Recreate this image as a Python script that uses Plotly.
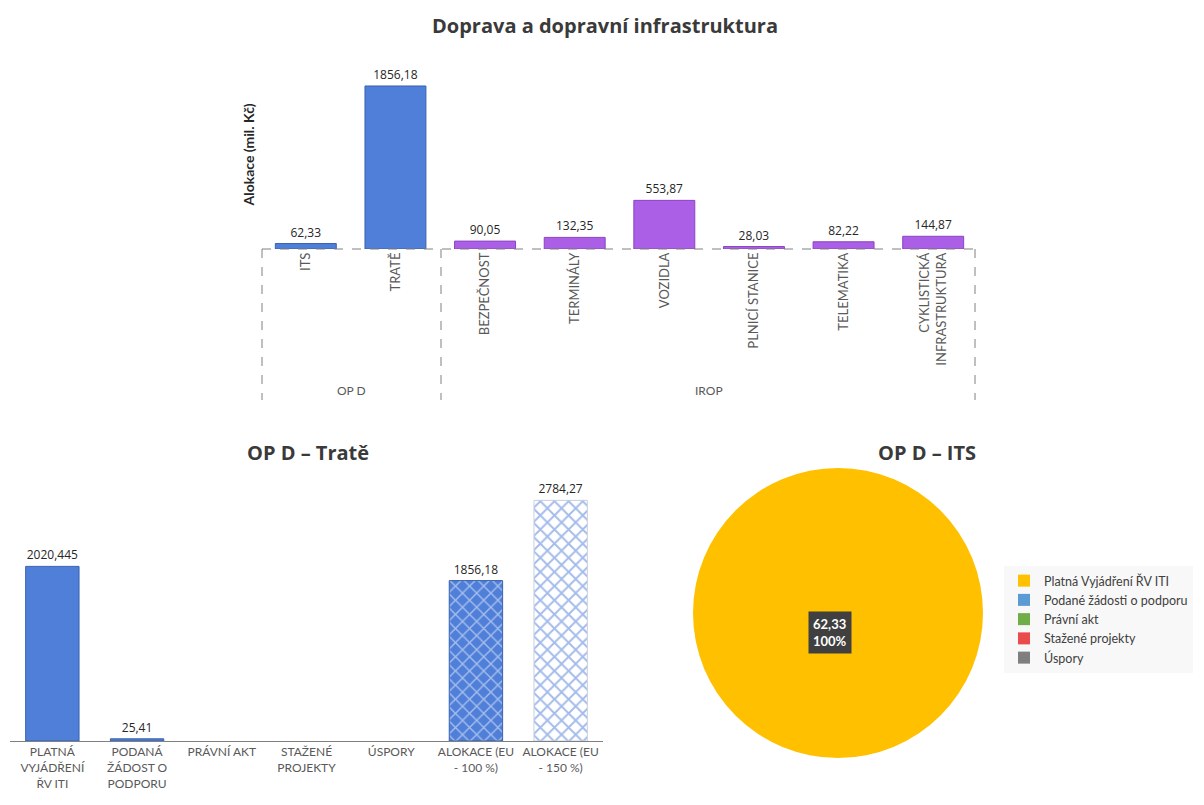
import plotly.graph_objects as go

# ---- data ----
top_categories = ["ITS", "TRATĚ", "BEZPEČNOST", "TERMINÁLY", "VOZIDLA",
                  "PLNICÍ STANICE", "TELEMATIKA", "CYKLISTICKÁ<br>INFRASTRUKTURA"]
top_values = [62.33, 1856.18, 90.05, 132.35, 553.87, 28.03, 82.22, 144.87]
top_groups = ["OP D", "OP D", "IROP", "IROP", "IROP", "IROP", "IROP", "IROP"]

trate_categories = ["PLATNÁ<br>VYJÁDŘENÍ<br>ŘV ITI", "PODANÁ<br>ŽÁDOST O<br>PODPORU",
                    "PRÁVNÍ AKT", "STAŽENÉ<br>PROJEKTY", "ÚSPORY",
                    "ALOKACE (EU<br>- 100 %)", "ALOKACE (EU<br>- 150 %)"]
trate_values = [2020.445, 25.41, None, None, None, 1856.18, 2784.27]
trate_style = ["solid", "solid", "solid", "solid", "solid", "hatch_dark", "hatch_light"]

its_labels = ["Platná Vyjádření ŘV ITI", "Podané žádosti o podporu", "Právní akt",
              "Stažené projekty", "Úspory"]
its_values = [62.33, 0, 0, 0, 0]

# ---- style ----
OFF = 8                      # page body margin
W, H = 1204 - OFF, 805 - OFF
BLUE = "#4f7fd8"
BLUE_EDGE = "#3a62b0"
PURPLE = "#ab5fe6"
PURPLE_EDGE = "#8a45c0"
TXT = "#404040"
AX = "#595959"
FONT = "Lato"
TFONT = "Open Sans"


def fmt(v):
    return "" if v is None else str(v).replace(".", ",")


def px(x):
    return (x - OFF) / W


def py(y):
    return 1 - (y - OFF) / H


fig = go.Figure()

# ---- top chart ----
group_color = {"OP D": BLUE, "IROP": PURPLE}
group_edge = {"OP D": BLUE_EDGE, "IROP": PURPLE_EDGE}
fig.add_trace(go.Bar(
    x=top_categories, y=top_values,
    marker=dict(color=[group_color[g] for g in top_groups],
                line=dict(color=[group_edge[g] for g in top_groups], width=1)),
    text=[fmt(v) for v in top_values], textposition="outside",
    textfont=dict(family=TFONT, size=12, color="#262626"), cliponaxis=False,
    xaxis="x", yaxis="y", showlegend=False, width=0.68,
))

# ---- bottom-left chart (one trace per fill style) ----
styles = {
    "solid": dict(color=BLUE, line=dict(color=BLUE_EDGE, width=1)),
    "hatch_dark": dict(color=BLUE, line=dict(color=BLUE_EDGE, width=1),
                       pattern=dict(shape="x", fgcolor="white", size=10, solidity=0.25,
                                    fillmode="overlay")),
    "hatch_light": dict(color="white", line=dict(color="#c8cfdc", width=1),
                        pattern=dict(shape="x", fgcolor="#4a78d6", size=10, solidity=0.35,
                                     fillmode="overlay")),
}
for sname, mk in styles.items():
    ys = [v if s == sname else None for v, s in zip(trate_values, trate_style)]
    fig.add_trace(go.Bar(
        x=trate_categories, y=ys, marker=mk,
        text=[fmt(v) for v in ys], textposition="outside",
        textfont=dict(family=TFONT, size=12, color="#262626"), cliponaxis=False,
        xaxis="x2", yaxis="y2", showlegend=False, width=0.63,
    ))

# ---- pie ----
pie_colors = ["#ffc000", "#5b9bd5", "#70ad47", "#e84c4c", "#7f7f7f"]
cx, cy, r = 838, 613, 145
fig.add_trace(go.Pie(
    labels=its_labels, values=its_values, sort=False,
    marker=dict(colors=pie_colors, line=dict(width=0)),
    textinfo="none", hoverinfo="label+value+percent",
    domain=dict(x=[px(cx - r), px(cx + r)], y=[py(cy + r), py(cy - r)]),
    showlegend=True,
))

fig.update_layout(
    width=W, height=H, margin=dict(l=0, r=0, t=0, b=0, autoexpand=False),
    paper_bgcolor="white", plot_bgcolor="white",
    font=dict(family=FONT, color=AX),
    barmode="overlay",
    xaxis=dict(domain=[px(261), px(978)], anchor="y", tickangle=-90,
               tickfont=dict(family=FONT, size=13, color=AX), showline=False,
               ticks="", showgrid=False, automargin=False),
    yaxis=dict(domain=[py(249), py(60)], anchor="x", range=[0, 2152],
               showticklabels=False, showgrid=False, zeroline=False, showline=False,
               automargin=False,
               title=dict(text="<b>Alokace (mil. Kč)</b>", standoff=2,
                          font=dict(family=FONT, size=14, color="#262626"))),
    xaxis2=dict(domain=[px(10), px(603)], anchor="y2", tickangle=0,
                categoryorder="array", categoryarray=trate_categories,
                tickfont=dict(family=FONT, size=12, color=AX), showline=True,
                linecolor="#808080", linewidth=1, ticks="", showgrid=False,
                automargin=False),
    yaxis2=dict(domain=[py(741), py(480)], anchor="x2", range=[0, 3020],
                showticklabels=False, showgrid=False, zeroline=False, showline=False,
                automargin=False),
    legend=dict(x=px(1004), y=py(566), xanchor="left", yanchor="top",
                bgcolor="#f8f8f8", font=dict(family=FONT, size=12.5, color=TXT),
                itemwidth=30),
)

# dashed axis frame for top chart
dash = dict(color="#808080", width=1, dash="dash")
fig.add_shape(type="line", xref="paper", yref="paper", x0=px(262), x1=px(975),
              y0=py(249), y1=py(249), line=dash)
for xv in [262, 441, 975]:
    fig.add_shape(type="line", xref="paper", yref="paper", x0=px(xv), x1=px(xv),
                  y0=py(249), y1=py(400), line=dash)

# group labels
for name, xc in [("OP D", 352), ("IROP", 709)]:
    fig.add_annotation(text=name, xref="paper", yref="paper", x=px(xc), y=py(391),
                       xanchor="center", yanchor="middle",
                       showarrow=False, font=dict(family=FONT, size=12, color=AX))

# titles
titles = [("Doprava a dopravní infrastruktura", 605, 25),
          ("OP D – Tratě", 308, 452),
          ("OP D – ITS", 927, 452)]
for t, xc, yc in titles:
    fig.add_annotation(text=f"<b>{t}</b>", xref="paper", yref="paper", x=px(xc), y=py(yc),
                       xanchor="center", yanchor="middle",
                       showarrow=False, font=dict(family=TFONT, size=20, color="#3a3a3a"))

# pie data label
total = sum(its_values)
fig.add_annotation(text=f"<b>{fmt(its_values[0])}<br>{its_values[0] / total:.0%}</b>",
                   xref="paper", yref="paper", x=px(cx - 8), y=py(632),
                   xanchor="center", yanchor="middle",
                   showarrow=False, bgcolor="#404040", borderpad=4,
                   font=dict(family=FONT, size=13, color="white"))

fig.write_html("out.html")
